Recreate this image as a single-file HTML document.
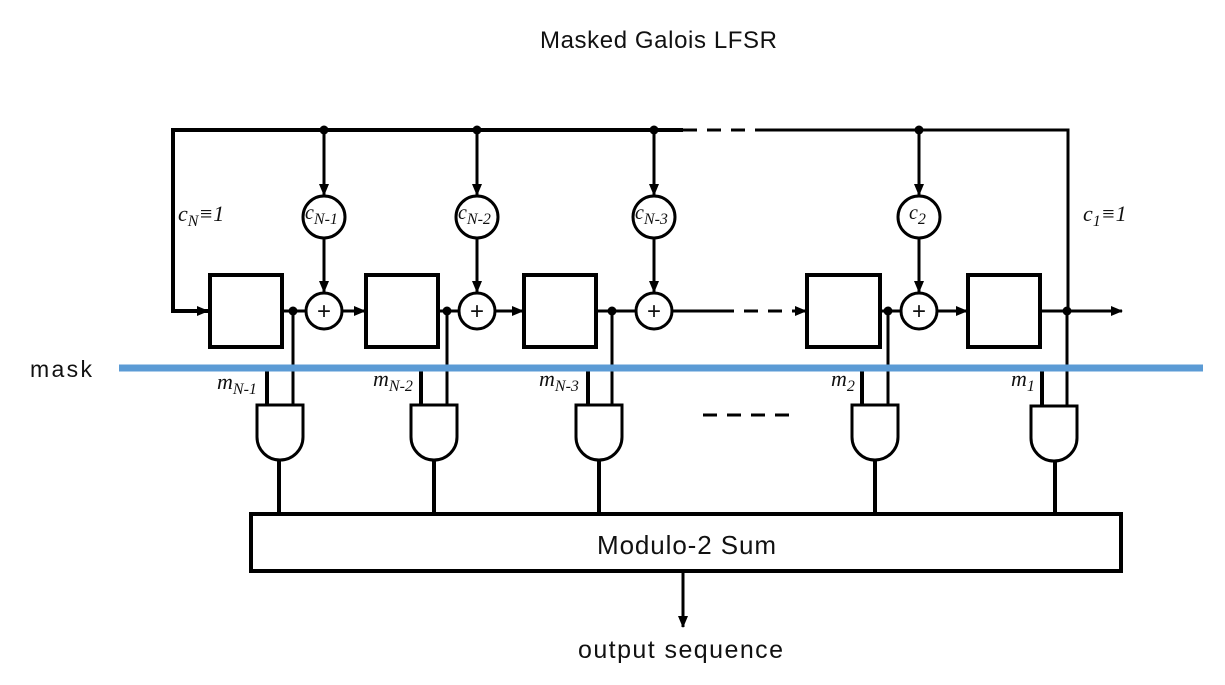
<!DOCTYPE html>
<html><head><meta charset="utf-8"><style>
html,body{margin:0;padding:0;background:#fff;}
svg{display:block;}
.t{font-family:"Liberation Serif",serif;font-style:italic;fill:#111;}
.s{font-family:"Liberation Sans",sans-serif;fill:#111;}
</style></head><body>
<svg width="1225" height="685" viewBox="0 0 1225 685" xmlns="http://www.w3.org/2000/svg">
<defs>
<marker id="ah" markerWidth="12" markerHeight="10" refX="11" refY="5" orient="auto" markerUnits="userSpaceOnUse">
<path d="M0,0 L12,5 L0,10 z" fill="#000"/></marker>
</defs>
<text class="s" x="540" y="48" font-size="24" textLength="237">Masked Galois LFSR</text>

<g stroke="#000" fill="none">
<path d="M173,130 H683" stroke-width="4"/>
<path d="M683,130 H765" stroke-width="3" stroke-dasharray="14,10"/>
<path d="M765,130 H1068 V310" stroke-width="3"/>
<path d="M173,128 V311 H208" stroke-width="4" marker-end="url(#ah)"/>

<g stroke-width="4">
<rect x="210" y="275" width="72" height="72"/>
<rect x="366" y="275" width="72" height="72"/>
<rect x="524" y="275" width="72" height="72"/>
<rect x="807" y="275" width="73" height="72"/>
<rect x="968" y="275" width="72" height="72"/>
</g>

<g stroke-width="3">
<line x1="324" y1="130" x2="324" y2="195" marker-end="url(#ah)"/>
<line x1="324" y1="239" x2="324" y2="292" marker-end="url(#ah)"/>
<line x1="477" y1="130" x2="477" y2="195" marker-end="url(#ah)"/>
<line x1="477" y1="239" x2="477" y2="292" marker-end="url(#ah)"/>
<line x1="654" y1="130" x2="654" y2="195" marker-end="url(#ah)"/>
<line x1="654" y1="239" x2="654" y2="292" marker-end="url(#ah)"/>
<line x1="919" y1="130" x2="919" y2="195" marker-end="url(#ah)"/>
<line x1="919" y1="239" x2="919" y2="292" marker-end="url(#ah)"/>
<circle cx="324" cy="217" r="21"/>
<circle cx="477" cy="217" r="21"/>
<circle cx="654" cy="217" r="21"/>
<circle cx="919" cy="217" r="21"/>
<circle cx="324" cy="311" r="18"/>
<circle cx="477" cy="311" r="18"/>
<circle cx="654" cy="311" r="18"/>
<circle cx="919" cy="311" r="18"/>

<line x1="282" y1="311" x2="306" y2="311"/>
<line x1="342" y1="311" x2="365" y2="311" marker-end="url(#ah)"/>
<line x1="438" y1="311" x2="459" y2="311"/>
<line x1="495" y1="311" x2="523" y2="311" marker-end="url(#ah)"/>
<line x1="596" y1="311" x2="636" y2="311"/>
<line x1="672" y1="311" x2="720" y2="311"/>
<line x1="720" y1="311" x2="795" y2="311" stroke-dasharray="14,10"/>
<line x1="795" y1="311" x2="806" y2="311" marker-end="url(#ah)"/>
<line x1="880" y1="311" x2="901" y2="311"/>
<line x1="937" y1="311" x2="967" y2="311" marker-end="url(#ah)"/>
<line x1="1040" y1="311" x2="1122" y2="311" marker-end="url(#ah)"/>

<line x1="293" y1="311" x2="293" y2="405"/>
<line x1="447" y1="311" x2="447" y2="405"/>
<line x1="612" y1="311" x2="612" y2="405"/>
<line x1="888" y1="311" x2="888" y2="405"/>
<line x1="1067" y1="310" x2="1067" y2="406"/>
</g>
<g stroke-width="4">
<line x1="267" y1="368" x2="267" y2="405"/>
<line x1="421" y1="368" x2="421" y2="405"/>
<line x1="588" y1="368" x2="588" y2="405"/>
<line x1="862" y1="368" x2="862" y2="405"/>
<line x1="1042" y1="368" x2="1042" y2="406"/>
</g>
</g>
<g fill="#000">
<circle cx="324" cy="130" r="4.5"/><circle cx="477" cy="130" r="4.5"/>
<circle cx="654" cy="130" r="4.5"/><circle cx="919" cy="130" r="4.5"/>
<circle cx="293" cy="311" r="4.5"/><circle cx="447" cy="311" r="4.5"/>
<circle cx="612" cy="311" r="4.5"/><circle cx="888" cy="311" r="4.5"/>
<circle cx="1067" cy="311" r="4.5"/>
</g>
<g font-size="24" class="s" text-anchor="middle" fill="#000">
<text x="324" y="319">+</text><text x="477" y="319">+</text>
<text x="654" y="319">+</text><text x="919" y="319">+</text>
</g>

<line x1="119" y1="368" x2="1203" y2="368" stroke="#5B9BD5" stroke-width="7"/>
<text class="s" x="30" y="377" font-size="23" textLength="62">mask</text>

<g stroke="#000" stroke-width="3" fill="#fff">
<path d="M257,405 H303 V437 A23,23 0 0 1 257,437 Z"/>
<path d="M411,405 H457 V437 A23,23 0 0 1 411,437 Z"/>
<path d="M576,405 H622 V437 A23,23 0 0 1 576,437 Z"/>
<path d="M852,405 H898 V437 A23,23 0 0 1 852,437 Z"/>
<path d="M1031,406 H1077 V438 A23,23 0 0 1 1031,438 Z"/>
</g>
<g stroke="#000" stroke-width="4">
<line x1="279" y1="460" x2="279" y2="514"/>
<line x1="434" y1="460" x2="434" y2="514"/>
<line x1="599" y1="460" x2="599" y2="514"/>
<line x1="875" y1="460" x2="875" y2="514"/>
<line x1="1055" y1="461" x2="1055" y2="514"/>
</g>
<line x1="703" y1="415" x2="790" y2="415" stroke="#000" stroke-width="3" stroke-dasharray="14,10"/>

<rect x="251" y="514" width="870" height="57" fill="none" stroke="#000" stroke-width="4"/>
<text class="s" x="597" y="554" font-size="26" textLength="179">Modulo-2 Sum</text>
<line x1="683" y1="572" x2="683" y2="627" stroke="#000" stroke-width="3" marker-end="url(#ah)"/>
<text class="s" x="578" y="658" font-size="25" textLength="205">output sequence</text>

<g class="t" font-size="22">
<text x="178" y="221">c<tspan font-size="16" dy="5">N</tspan><tspan dy="-5">≡1</tspan></text>
<text x="1083" y="221">c<tspan font-size="16" dy="5">1</tspan><tspan dy="-5">≡1</tspan></text>
<text x="305" y="219" font-size="20">c<tspan font-size="16" dy="5">N-1</tspan></text>
<text x="458" y="219" font-size="20">c<tspan font-size="16" dy="5">N-2</tspan></text>
<text x="635" y="219" font-size="20">c<tspan font-size="16" dy="5">N-3</tspan></text>
<text x="909" y="219" font-size="20">c<tspan font-size="16" dy="5">2</tspan></text>
<text x="217" y="389">m<tspan font-size="16" dy="5">N-1</tspan></text>
<text x="373" y="386">m<tspan font-size="16" dy="5">N-2</tspan></text>
<text x="539" y="386">m<tspan font-size="16" dy="5">N-3</tspan></text>
<text x="831" y="386">m<tspan font-size="16" dy="5">2</tspan></text>
<text x="1011" y="386">m<tspan font-size="16" dy="5">1</tspan></text>
</g>
</svg>
</body></html>
